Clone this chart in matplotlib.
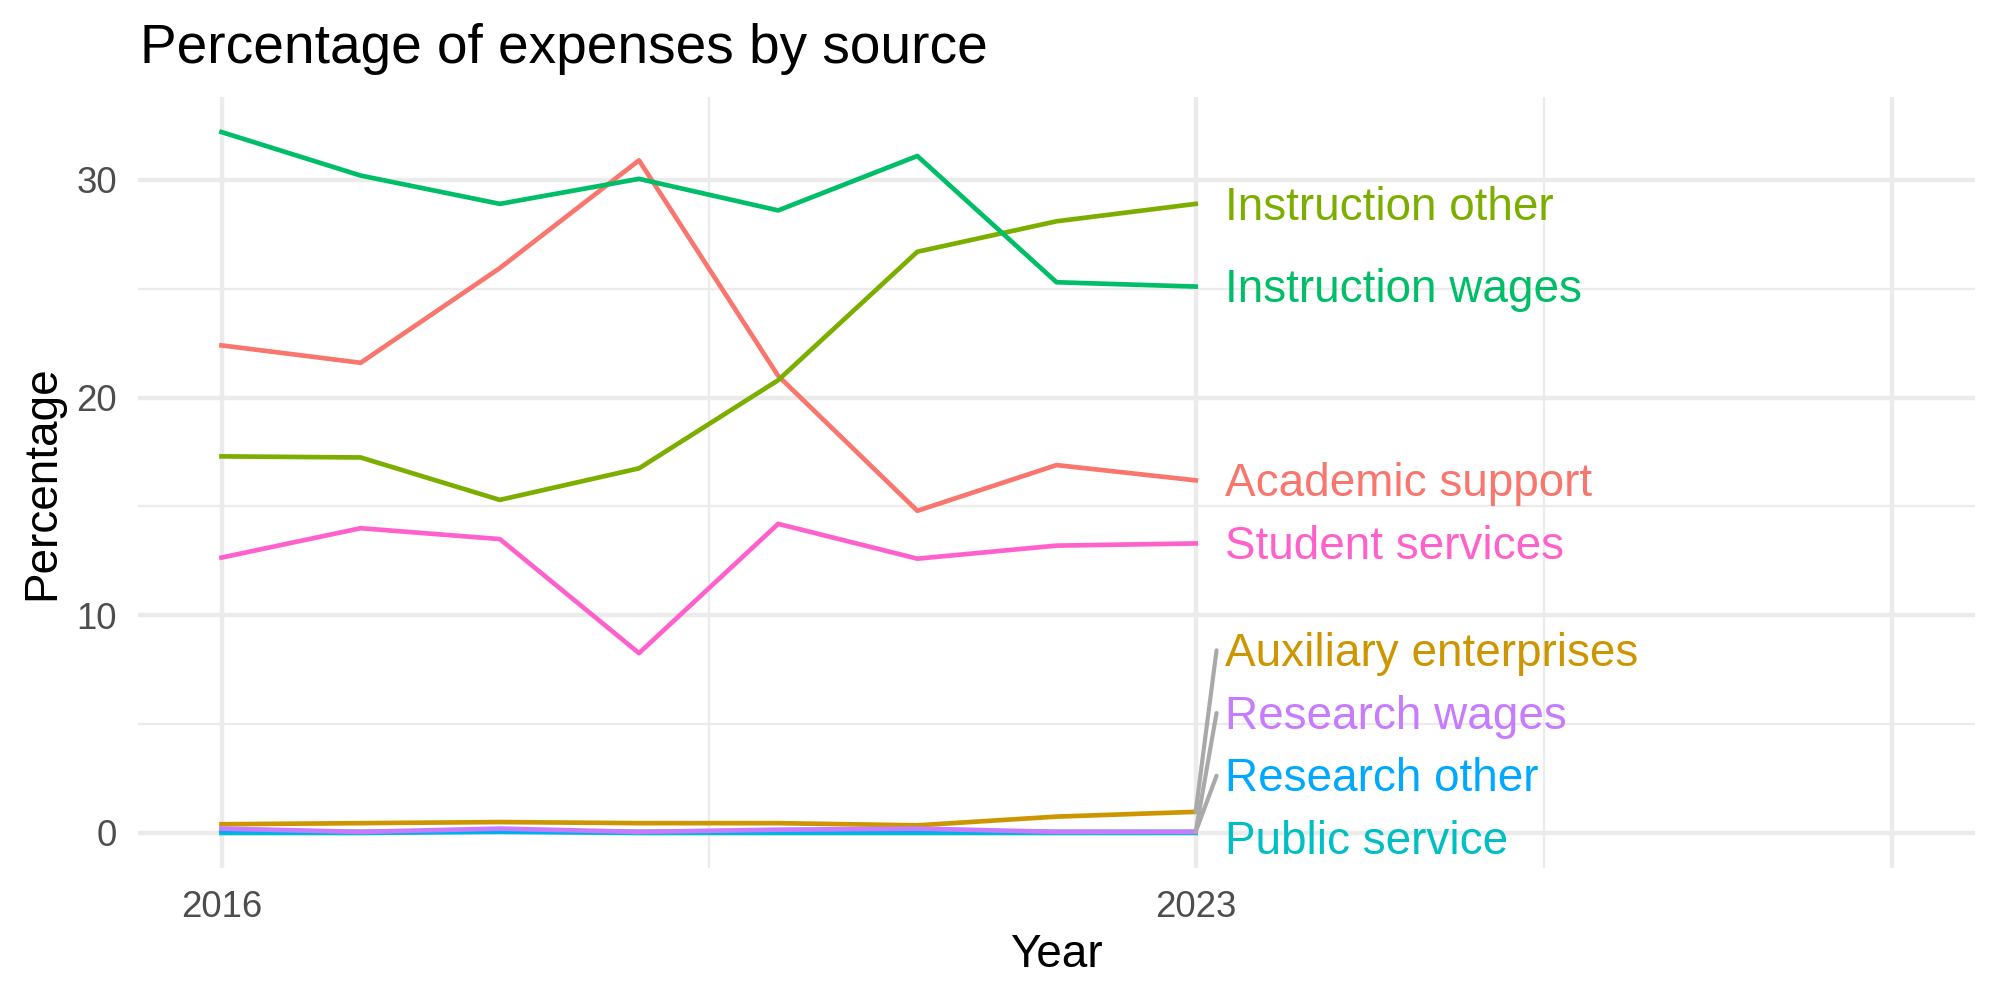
import matplotlib
matplotlib.use("Agg")
import matplotlib.pyplot as plt
import matplotlib.transforms as mtransforms
import numpy as np

# ---------------- data ----------------
years = [2016, 2017, 2018, 2019, 2020, 2021, 2022, 2023]
categories = ["Academic support", "Auxiliary enterprises", "Instruction other",
              "Instruction wages", "Public service", "Research other",
              "Research wages", "Student services"]
academic_support = [22.4, 21.6, 25.95, 30.9, 21.0, 14.8, 16.9, 16.2]
auxiliary_enterprises = [0.4, 0.45, 0.5, 0.45, 0.45, 0.35, 0.75, 0.97]
instruction_other = [17.3, 17.25, 15.3, 16.75, 20.8, 26.7, 28.1, 28.9]
instruction_wages = [32.2, 30.2, 28.9, 30.05, 28.6, 31.1, 25.3, 25.1]
public_service = [0.0, 0.0, 0.05, 0.0, 0.0, 0.0, 0.0, 0.0]
research_other = [0.1, 0.05, 0.1, 0.05, 0.1, 0.1, 0.05, 0.05]
research_wages = [0.2, 0.05, 0.2, 0.05, 0.15, 0.2, 0.05, 0.05]
student_services = [12.65, 14.0, 13.5, 8.26, 14.2, 12.6, 13.2, 13.3]

x_breaks = [2016, 2023, 2028]
x_labels = ["2016", "2023", ""]
x_minor = [2019.5, 2025.5]
x_limits = [2016, 2028]
y_breaks = [0, 10, 20, 30]
y_minor = [5, 15, 25]

title = "Percentage of expenses by source"
xlab = "Year"
ylab = "Percentage"

series = [academic_support, auxiliary_enterprises, instruction_other,
          instruction_wages, public_service, research_other,
          research_wages, student_services]
colors = ["#F8766D", "#CD9600", "#7CAE00", "#00BE67",
          "#00BFC4", "#00A9FF", "#C77CFF", "#FF61CC"]

# ---------------- style ----------------
plt.rcParams["font.family"] = ["Liberation Sans", "DejaVu Sans"]
DPI = 300
fig = plt.figure(figsize=(2000 / DPI, 1000 / DPI), dpi=DPI, facecolor="white")
ax = fig.add_axes([138 / 2000, 1 - 868 / 1000, (1975 - 138) / 2000, (868 - 97) / 1000])
ax.set_facecolor("white")

grid_col = "#EBEBEB"
for s in ax.spines.values():
    s.set_visible(False)

# expansion (5%) like ggplot
xr = x_limits[1] - x_limits[0]
ax.set_xlim(x_limits[0] - 0.05 * xr, x_limits[1] + 0.05 * xr)
all_vals = np.concatenate([np.array(s) for s in series])
ymin, ymax = all_vals.min(), all_vals.max()
yr = ymax - ymin
ax.set_ylim(ymin - 0.05 * yr, ymax + 0.05 * yr)

ax.set_xticks(x_breaks)
ax.set_xticklabels(x_labels)
ax.set_xticks(x_minor, minor=True)
ax.set_yticks(y_breaks)
ax.set_yticks(y_minor, minor=True)
ax.grid(which="major", color=grid_col, linewidth=1.07, zorder=0)
ax.grid(which="minor", color=grid_col, linewidth=0.53, zorder=0)
ax.set_axisbelow(True)
ax.tick_params(which="both", length=0)
ax.tick_params(axis="y", pad=5.0, labelsize=8.8, labelcolor="#4D4D4D")
ax.tick_params(axis="x", pad=5.3, labelsize=8.8, labelcolor="#4D4D4D")

# lines
for vals, col in zip(series, colors):
    ax.plot(years, vals, color=col, linewidth=1.12, solid_joinstyle="round", zorder=3)

# ---------------- repelled labels ----------------
ends = [s[-1] for s in series]
order = sorted(range(len(categories)), key=lambda i: ends[i])
gap = 2.88
label_y = [0.0] * len(categories)
prev = None
for i in order:
    if prev is None:
        y = ends[i] - 0.25
    else:
        y = max(ends[i], prev + gap)
    label_y[i] = y
    prev = y

x_end = years[-1]
text_dx = 0.21
seg_dx = 0.15
text_tr = ax.transData + mtransforms.ScaledTranslation(0, -0.9 / 72, fig.dpi_scale_trans)
for i, cat in enumerate(categories):
    ax.text(x_end + text_dx, label_y[i], cat, color=colors[i], fontsize=11.0,
            ha="left", va="center", zorder=5, transform=text_tr)
    if abs(label_y[i] - ends[i]) > 1.0:
        ax.plot([x_end, x_end + seg_dx], [ends[i], label_y[i]],
                color="#A9A9A9", linewidth=1.0, zorder=4, solid_capstyle="round")

# ---------------- titles ----------------
ax.set_xlabel(xlab, fontsize=11, color="black")
ax.xaxis.set_label_coords(0.5, -(955 - 868) / 771)
ax.xaxis.label.set_va("center")
ax.set_ylabel(ylab, fontsize=11, color="black")
ax.yaxis.set_label_coords((42 - 138) / 1837, 0.5)
ax.yaxis.label.set_va("center")
ax.yaxis.label.set_ha("center")
fig.text(140 / 2000, 1 - 49 / 1000, title, fontsize=13.2, ha="left", va="center", color="black")

fig.savefig("out.png", dpi=DPI, facecolor="white")
